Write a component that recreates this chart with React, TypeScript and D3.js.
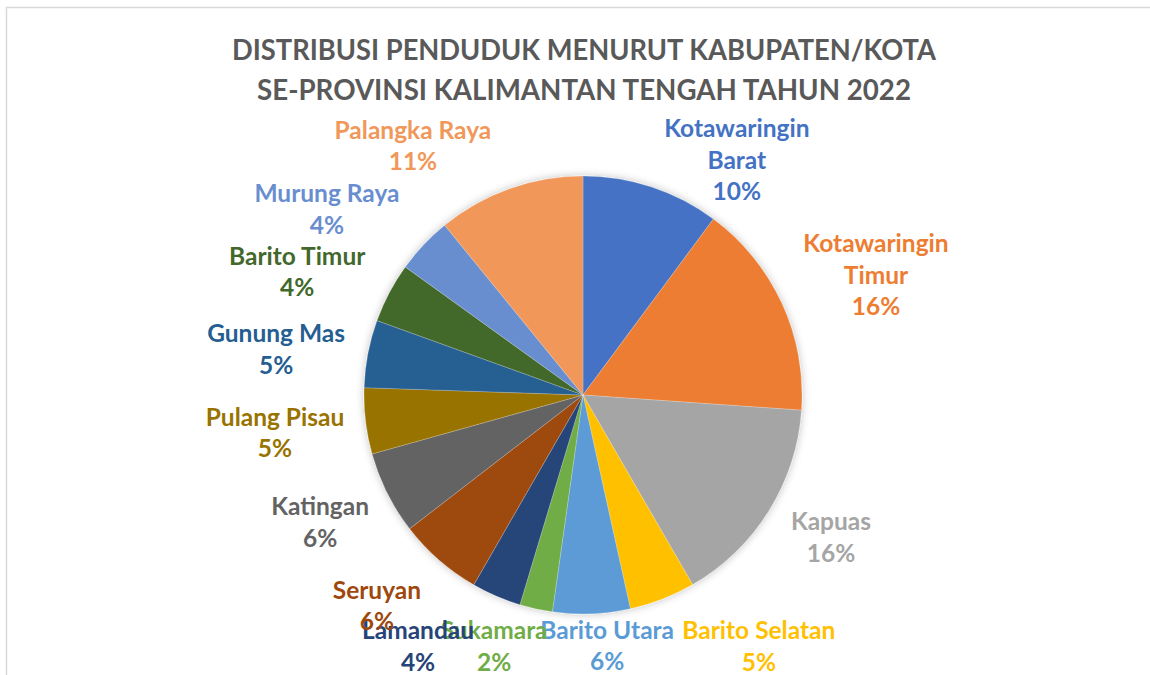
import React from "react";
import * as d3 from "d3";

// Population share by regency/city (percent)
const categories = [
  "Kotawaringin Barat",
  "Kotawaringin Timur",
  "Kapuas",
  "Barito Selatan",
  "Barito Utara",
  "Sukamara",
  "Lamandau",
  "Seruyan",
  "Katingan",
  "Pulang Pisau",
  "Gunung Mas",
  "Barito Timur",
  "Murung Raya",
  "Palangka Raya",
];
const values = [10.15, 15.95, 15.55, 4.87, 5.7, 2.42, 3.66, 6.23, 6.12, 4.87, 4.98, 4.42, 4.18, 10.88];
const labelLines = [
  ["Kotawaringin", "Barat"],
  ["Kotawaringin", "Timur"],
  ["Kapuas"],
  ["Barito Selatan"],
  ["Barito Utara"],
  ["Sukamara"],
  ["Lamandau"],
  ["Seruyan"],
  ["Katingan"],
  ["Pulang Pisau"],
  ["Gunung Mas"],
  ["Barito Timur"],
  ["Murung Raya"],
  ["Palangka Raya"],
];
const colors = [
  "#4472C4", "#ED7D31", "#A5A5A5", "#FFC000", "#5B9BD5", "#70AD47",
  "#264478", "#9E480E", "#636363", "#997300", "#255E91", "#43682B",
  "#698ED0", "#F1975A",
];
const titleLines = [
  "DISTRIBUSI PENDUDUK MENURUT KABUPATEN/KOTA",
  "SE-PROVINSI KALIMANTAN TENGAH TAHUN 2022",
];

// Label layout (polar placement of each label block, as placed in the original)
const labelAngleDeg = [33.2, 67.7, 119.8, 145.0, 174.5, 199.5, 213.3, 224.4, 244.2, 263.0, 278.5, 293.3, 306.0, 325.7];
const labelDistRatio = [1.283, 1.446, 1.305, 1.4, 1.151, 1.216, 1.372, 1.345, 1.333, 1.417, 1.417, 1.421, 1.445, 1.378];

const W = 1150;
const H = 675;
const cx = 583;
const cy = 395;
const R = 219;
const FONT = "Lato, 'Open Sans', sans-serif";

export default function App() {
  const pie = d3.pie<number>().sort(null).value((d) => d);
  const arcs = pie(values);
  const arcGen = d3.arc<d3.PieArcDatum<number>>().innerRadius(0).outerRadius(R);
  const lineH = 31.5;
  const total = d3.sum(values);

  return (
    <svg
      width={W}
      height={H}
      style={{ position: "absolute", left: 0, top: 0, background: "#fff" }}
    >
      <defs>
        <filter id="sh" x="-20%" y="-20%" width="140%" height="140%">
          <feGaussianBlur in="SourceAlpha" stdDeviation="4" />
          <feOffset dx="0" dy="0" result="b" />
          <feComponentTransfer>
            <feFuncA type="linear" slope="0.25" />
          </feComponentTransfer>
          <feMerge>
            <feMergeNode />
            <feMergeNode in="SourceGraphic" />
          </feMerge>
        </filter>
      </defs>
      <rect x={0} y={0} width={W} height={H} fill="#fff" />
      <rect x={6.5} y={7.5} width={W + 20} height={H + 20} fill="none" stroke="#d9d9d9" strokeWidth={1.5} />
      {titleLines.map((t, i) => (
        <text
          key={t}
          x={584}
          y={60 + i * 39.5}
          textAnchor="middle"
          fontFamily={FONT}
          fontWeight={700}
          fontSize={28}
          fill="#595959"
          textLength={i === 0 ? 704 : 654}
          lengthAdjust="spacingAndGlyphs"
        >
          {t}
        </text>
      ))}
      <g transform={`translate(${cx},${cy})`} filter="url(#sh)">
        {arcs.map((a, i) => (
          <path key={categories[i]} d={arcGen(a) || ""} fill={colors[i]} stroke="#ffffff" strokeOpacity={0.35} strokeWidth={0.6} />
        ))}
      </g>
      <g>
        {arcs.map((a, i) => {
          const th = (labelAngleDeg[i] * Math.PI) / 180;
          const d = labelDistRatio[i] * R;
          const x = cx + Math.sin(th) * d;
          const y = cy - Math.cos(th) * d;
          const pct = d3.format(".0%")(values[i] / total);
          const lines = [...labelLines[i], pct];
          const top = y - ((lines.length - 1) * lineH) / 2;
          return (
            <text
              key={categories[i]}
              textAnchor="middle"
              fontFamily={FONT}
              fontWeight={700}
              fontSize={24.5}
              fill={colors[i]}
            >
              {lines.map((l, j) => (
                <tspan key={j} x={x} y={top + j * lineH} dy="0.36em">
                  {l}
                </tspan>
              ))}
            </text>
          );
        })}
      </g>
    </svg>
  );
}
